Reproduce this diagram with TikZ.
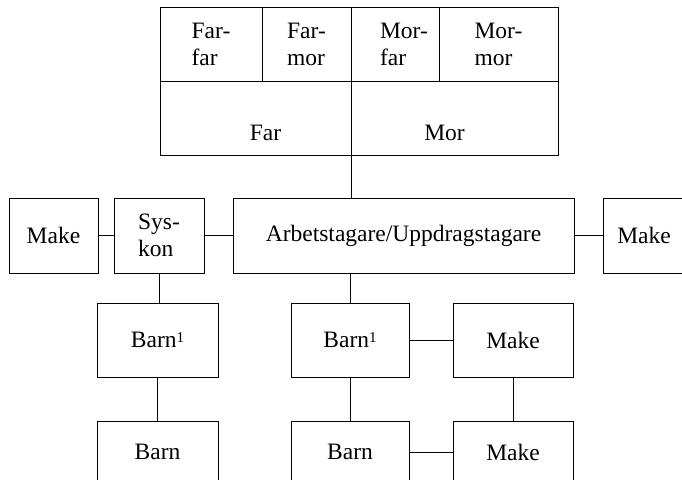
\documentclass[tikz,border=0pt]{standalone}
\usepackage{fontspec}
\setmainfont{Liberation Serif}
\usepackage{tikz}

\newcommand{\fn}{\raisebox{5pt}{\fontsize{15}{15}\selectfont 1}}

\begin{document}
\begin{tikzpicture}[x=1pt,y=-1pt,
    box/.style={draw,line width=1pt,inner sep=0pt,align=left,
      minimum height=74pt,font=\fontsize{23.5}{27}\selectfont},
    lbl/.style={inner sep=0pt,font=\fontsize{23.5}{27}\selectfont},
    link/.style={line width=1pt}]
  % Frame
  \useasboundingbox (0,0) rectangle (682,479);
  \clip (0,0) rectangle (682,479);

  % Grandparents and parents
  \node[box,minimum width=102pt] (farfar) at (211,44) {Far-\\far};
  \node[box,minimum width=89pt] (farmor) at (306.5,44) {Far-\\mor};
  \node[box,minimum width=88pt] (morfar) at (395,44)
    {\hspace*{18pt}Mor-\\\hspace*{18pt}far};
  \node[box,minimum width=119pt] (mormor) at (498.5,44) {Mor-\\mor};
  \node[box,minimum width=191pt,
    label={[lbl,xshift=10pt,yshift=-15pt]center:Far}] (far) at (255.5,118) {};
  \node[box,minimum width=207pt,
    label={[lbl,xshift=-10pt,yshift=-15pt]center:Mor}] (mor) at (454.5,118) {};

  % Middle row
  \node[box,minimum width=89pt,minimum height=75pt] (makeL) at (53.5,235.5) {Make};
  \node[box,minimum width=90pt,minimum height=75pt] (syskon) at (159,235.5) {Sys-\\kon};
  \node[box,minimum width=341pt,minimum height=75pt] (arb) at (403.5,235.5)
    {Arbetstagare/Uppdragstagare};
  \node[box,minimum width=82pt,minimum height=75pt] (makeR) at (644,235.5) {Make};

  % Children
  \node[box,minimum width=121pt] (barnA) at (157.5,340) {Barn\fn};
  \node[box,minimum width=121pt,minimum height=62pt] (barnB) at (157.5,452) {Barn};
  \node[box,minimum width=118pt] (barnC) at (350,340) {Barn\fn};
  \node[box,minimum width=118pt,minimum height=62pt] (barnD) at (350,452) {Barn};
  \node[box,minimum width=120pt] (makeC) at (513,340) {Make};
  \node[box,minimum width=120pt,minimum height=62pt] (makeD) at (513,452) {Make};

  % Connectors
  \draw[link] (far.south east) -- (far.south east |- arb.north);
  \draw[link] (makeL) -- (syskon);
  \draw[link] (syskon) -- (arb);
  \draw[link] (arb) -- (makeR);
  \draw[link] (syskon.south) -- (syskon.south |- barnA.north);
  \draw[link] (barnA) -- (barnB);
  \draw[link] (barnC.north |- arb.south) -- (barnC.north);
  \draw[link] (barnC) -- (makeC);
  \draw[link] (barnC) -- (barnD);
  \draw[link] (makeC) -- (makeD);
  \draw[link] (barnD) -- (makeD);
\end{tikzpicture}
\end{document}
